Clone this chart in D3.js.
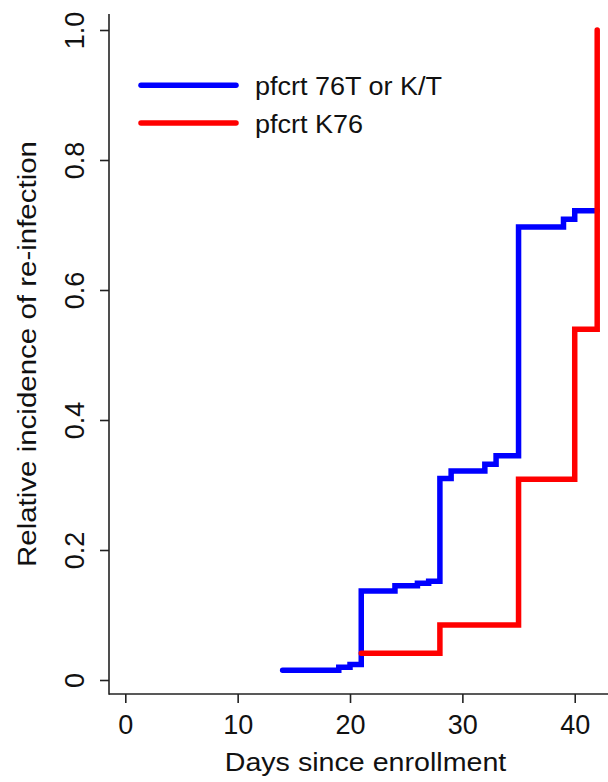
<!DOCTYPE html>
<html>
<head>
<meta charset="utf-8">
<script src="https://cdn.jsdelivr.net/npm/d3@7"></script>
<style>
  html, body { margin: 0; padding: 0; background: #fff; }
  svg { display: block; font-family: "Liberation Sans", Arial, sans-serif; }
</style>
</head>
<body>
<svg id="chart" width="608" height="782"></svg>
<script>
// ---- data ----
const blueDays   = [14, 19, 20, 21, 24, 26, 27, 28, 29, 32, 33, 35, 39, 40, 42];
const blueValues = [0.015, 0.0195, 0.024, 0.137, 0.145, 0.149, 0.152, 0.31, 0.3215, 0.332, 0.345, 0.697, 0.709, 0.722, 0.722];
const redDays    = [21, 28, 35, 40, 42];
const redValues  = [0.041, 0.0846, 0.309, 0.5395, 1.0];
const xTicks = [0, 10, 20, 30, 40];
const yTicks = [0, 0.2, 0.4, 0.6, 0.8, 1.0];
const yTickLabels = ["0", "0.2", "0.4", "0.6", "0.8", "1.0"];
const seriesNames = ["pfcrt 76T or K/T", "pfcrt K76"];
const seriesColors = ["#0000ff", "#ff0000"];
const xTitle = "Days since enrollment";
const yTitle = "Relative incidence of re-infection";

const svg = d3.select("#chart");
const x = d3.scaleLinear().domain([0, 42]).range([125.3, 597.2]);
const y = d3.scaleLinear().domain([0, 1]).range([680, 30]);

const axisColor = "#222";
const axisLeftX = 109, axisBottomY = 694;
const widen = 1.08; // reference glyphs render a bit wider than Liberation Sans

// axes lines
svg.append("line").attr("x1", axisLeftX).attr("x2", axisLeftX).attr("y1", 14).attr("y2", axisBottomY + 0.75)
  .attr("stroke", axisColor).attr("stroke-width", 1.6);
svg.append("line").attr("x1", axisLeftX).attr("x2", 608).attr("y1", axisBottomY).attr("y2", axisBottomY)
  .attr("stroke", axisColor).attr("stroke-width", 1.6);

// x ticks via d3 axis
const xAxis = d3.axisBottom(x).tickValues(xTicks).tickSize(9).tickPadding(12).tickFormat(d3.format("d"));
const gx = svg.append("g").attr("transform", `translate(0,${axisBottomY})`).call(xAxis);
gx.select(".domain").remove();
gx.selectAll(".tick line").attr("stroke", axisColor).attr("stroke-width", 1.6);
gx.selectAll(".tick text").attr("font-size", 27).attr("fill", "#111")
  .attr("font-family", "'Liberation Sans', Arial, sans-serif");

// y ticks via d3 axis, labels rotated
const yAxis = d3.axisLeft(y).tickValues(yTicks).tickSize(9).tickFormat((d, i) => yTickLabels[i]);
const gy = svg.append("g").attr("transform", `translate(${axisLeftX},0)`).call(yAxis);
gy.select(".domain").remove();
gy.selectAll(".tick line").attr("stroke", axisColor).attr("stroke-width", 1.6);
gy.selectAll(".tick text")
  .attr("font-size", 27).attr("fill", "#111")
  .attr("font-family", "'Liberation Sans', Arial, sans-serif")
  .attr("x", null).attr("dy", null)
  .attr("text-anchor", "middle")
  .attr("transform", "translate(-25,0) rotate(-90)");

function stretch(sel) {
  sel.each(function () {
    const w = this.getComputedTextLength();
    d3.select(this).attr("textLength", w * widen).attr("lengthAdjust", "spacingAndGlyphs");
  });
}

// titles
svg.append("text").attr("x", 365.5).attr("y", 771)
  .attr("text-anchor", "middle").attr("font-size", 26.5).attr("fill", "#111").text(xTitle)
  .call(stretch);
svg.append("text").attr("transform", "translate(35.5,354) rotate(-90)")
  .attr("text-anchor", "middle").attr("font-size", 25.5).attr("fill", "#111").text(yTitle)
  .call(sel => sel.attr("textLength", 426).attr("lengthAdjust", "spacingAndGlyphs"));

// lines
const line = d3.line().x(d => x(d[0])).y(d => y(d[1])).curve(d3.curveStepAfter);
const blueData = blueDays.map((d, i) => [d, blueValues[i]]);
const redData = redDays.map((d, i) => [d, redValues[i]]);
[blueData, redData].forEach((data, i) => {
  svg.append("path").datum(data).attr("d", line)
    .attr("fill", "none").attr("stroke", seriesColors[i]).attr("stroke-width", 5.5)
    .attr("stroke-linejoin", "miter").attr("stroke-linecap", "round");
});

// legend
const legendY = [85.3, 123];
seriesNames.forEach((name, i) => {
  svg.append("line").attr("x1", 141).attr("x2", 236).attr("y1", legendY[i]).attr("y2", legendY[i])
    .attr("stroke", seriesColors[i]).attr("stroke-width", 5.5).attr("stroke-linecap", "round");
  svg.append("text").attr("x", 255).attr("y", legendY[i] + 9.5)
    .attr("font-size", 25).attr("fill", "#111").text(name)
    .call(stretch);
});
</script>
</body>
</html>
